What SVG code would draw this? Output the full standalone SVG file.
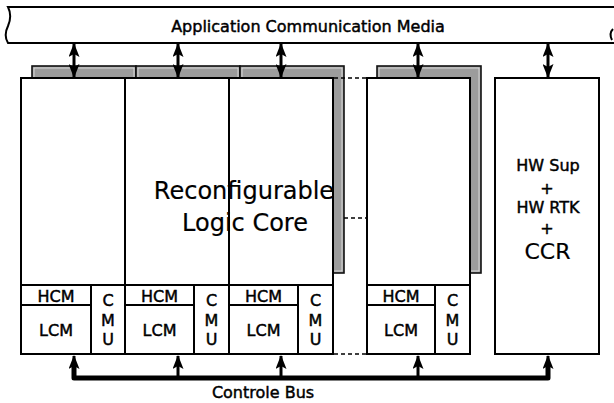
<svg xmlns="http://www.w3.org/2000/svg" width="614" height="403" viewBox="0 0 614 403">
<style>
text{font-family:"DejaVu Sans","Liberation Sans",sans-serif;fill:#000;text-anchor:middle}
.s{font-size:16px;stroke:#000;stroke-width:0.45}
.b{font-size:24px;stroke:#000;stroke-width:0.2}
.c{font-size:22px;stroke:#000;stroke-width:0.2}
.box{fill:#fff;stroke:#000;stroke-width:2}
.sh{fill:#9c9c9c;stroke:#111;stroke-width:1.6}
.hl{fill:none;stroke:#e6e6e6;stroke-width:0.8}
.ln{fill:none;stroke:#000;stroke-width:2}
.dash{fill:none;stroke:#000;stroke-width:1.6;stroke-dasharray:4 3}
.ar{fill:none;stroke:#000;stroke-width:3}
.bus{fill:none;stroke:#000;stroke-width:5;stroke-linejoin:round}
</style>
<defs>
<marker id="ah" markerUnits="userSpaceOnUse" viewBox="0 0 14 11" markerWidth="14" markerHeight="11" refX="13" refY="5.5" orient="auto-start-reverse">
<path d="M0 0 L14 5.5 L0 11 L3 5.5 Z" fill="#000"/>
</marker>
</defs>
<rect width="614" height="403" fill="#fff"/>

<g id="media">
<path d="M8 7 H620 V43 H8 C5 38 5 32 8 26 C11 19 11 13 8 7 Z" fill="#fff" stroke="#000" stroke-width="2"/>
<path d="M613 29 C610 32 610 36 612 40" fill="none" stroke="#000" stroke-width="2"/>
<text class="s" x="308" y="32">Application Communication Media</text>
</g>

<g id="shadows">
<rect class="sh" x="32" y="66" width="104" height="207"/>
<rect class="hl" x="34" y="68" width="100" height="203"/>
<rect class="sh" x="136" y="66" width="104" height="207"/>
<rect class="hl" x="138" y="68" width="100" height="203"/>
<rect class="sh" x="240" y="66" width="104" height="207"/>
<rect class="hl" x="242" y="68" width="100" height="203"/>
<rect class="sh" x="377" y="66" width="104" height="207"/>
<rect class="hl" x="379" y="68" width="100" height="203"/>
</g>

<g id="module1">
<rect class="box" x="21" y="78" width="104" height="276"/>
<path class="ln" d="M21 285 H125 M91 285 V354 M21 305 H91"/>
<text class="s" x="56" y="302">HCM</text>
<text class="s" x="56" y="336">LCM</text>
<text class="s" x="108" y="306">C</text>
<text class="s" x="108" y="326">M</text>
<text class="s" x="108" y="345">U</text>
</g>

<g id="module2">
<rect class="box" x="125" y="78" width="104" height="276"/>
<path class="ln" d="M125 285 H229 M194 285 V354 M125 305 H194"/>
<text class="s" x="159.5" y="302">HCM</text>
<text class="s" x="159.5" y="336">LCM</text>
<text class="s" x="211.5" y="306">C</text>
<text class="s" x="211.5" y="326">M</text>
<text class="s" x="211.5" y="345">U</text>
</g>

<g id="module3">
<rect class="box" x="229" y="78" width="104" height="276"/>
<path class="ln" d="M229 285 H333 M298 285 V354 M229 305 H298"/>
<text class="s" x="263.5" y="302">HCM</text>
<text class="s" x="263.5" y="336">LCM</text>
<text class="s" x="315.5" y="306">C</text>
<text class="s" x="315.5" y="326">M</text>
<text class="s" x="315.5" y="345">U</text>
</g>

<g id="module4">
<rect class="box" x="367" y="78" width="103" height="276"/>
<path class="ln" d="M367 285 H470 M435 285 V354 M367 305 H435"/>
<text class="s" x="401" y="302">HCM</text>
<text class="s" x="401" y="336">LCM</text>
<text class="s" x="452.5" y="306">C</text>
<text class="s" x="452.5" y="326">M</text>
<text class="s" x="452.5" y="345">U</text>
</g>

<g id="rlc-label">
<text class="b" x="244" y="199">Reconfigurable</text>
<text class="b" x="245" y="231">Logic Core</text>
</g>

<g id="hwbox">
<rect class="box" x="495" y="78" width="104" height="276"/>
<text class="s" x="548" y="171">HW Sup</text>
<text class="s" x="547" y="194">+</text>
<text class="s" x="548" y="213">HW RTK</text>
<text class="s" x="547" y="234">+</text>
<text class="c" x="547.5" y="259">CCR</text>
</g>

<g id="connectors">
<path class="dash" d="M334 78 H366"/>
<path class="dash" d="M344 218 H366"/>
<path class="dash" d="M334 354 H366"/>
<path class="ar" d="M74 44 V77" marker-start="url(#ah)" marker-end="url(#ah)"/>
<path class="ar" d="M178 44 V77" marker-start="url(#ah)" marker-end="url(#ah)"/>
<path class="ar" d="M281 44 V77" marker-start="url(#ah)" marker-end="url(#ah)"/>
<path class="ar" d="M418 44 V77" marker-start="url(#ah)" marker-end="url(#ah)"/>
<path class="ar" d="M548 44 V77" marker-start="url(#ah)" marker-end="url(#ah)"/>
<path class="bus" d="M74 366 V378 H548 V366"/>
<path class="ar" stroke-width="4" d="M74 376 V356" marker-end="url(#ah)"/>
<path class="ar" stroke-width="4" d="M178 376 V356" marker-end="url(#ah)"/>
<path class="ar" stroke-width="4" d="M281 376 V356" marker-end="url(#ah)"/>
<path class="ar" stroke-width="4" d="M418 376 V356" marker-end="url(#ah)"/>
<path class="ar" stroke-width="4" d="M548 376 V356" marker-end="url(#ah)"/>
<text class="s" x="263" y="398">Controle Bus</text>
</g>
</svg>
